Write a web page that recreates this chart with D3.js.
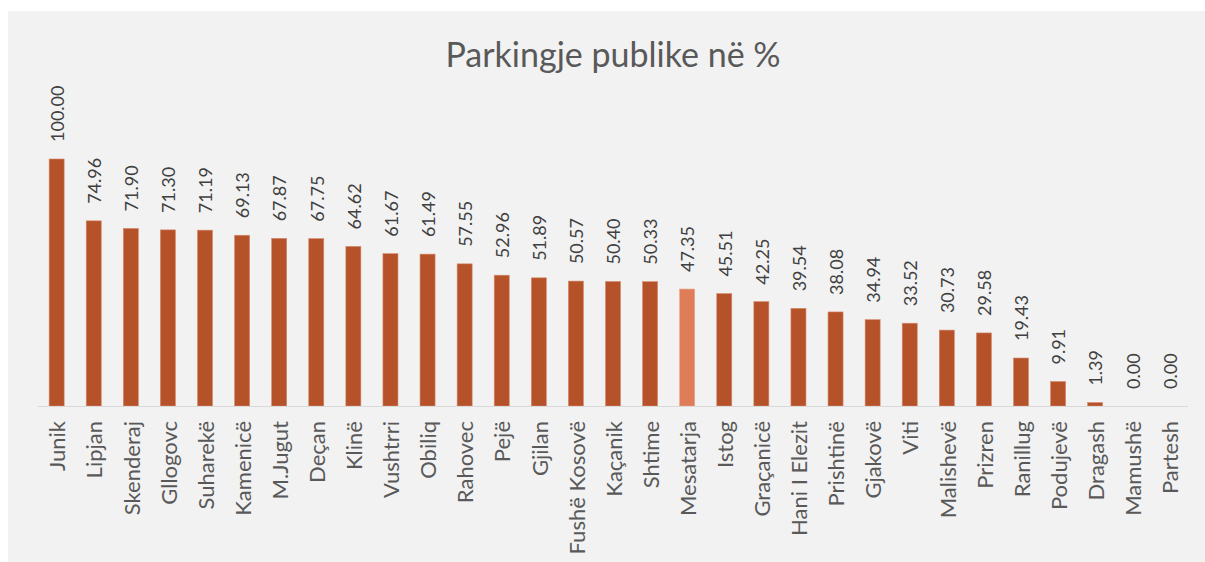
<!DOCTYPE html>
<html>
<head>
<meta charset="utf-8">
<script src="https://cdn.jsdelivr.net/npm/d3@7"></script>
<style>
  body { margin: 0; background: #fff; }
  svg { display: block; }
</style>
</head>
<body>
<div id="chart"></div>
<script>
// ######################## Data #############################################
const municipalities = ["Junik", "Lipjan", "Skenderaj", "Gllogovc", "Suharekë", "Kamenicë", "M.Jugut", "Deçan",
    "Klinë", "Vushtrri", "Obiliq", "Rahovec", "Pejë", "Gjilan", "Fushë Kosovë", "Kaçanik", "Shtime",
    "Mesatarja", "Istog", "Graçanicë", "Hani I Elezit", "Prishtinë", "Gjakovë", "Viti", "Malishevë",
    "Prizren", "Ranillug", "Podujevë", "Dragash", "Mamushë", "Partesh"]
const publicParking = [100.00, 74.96, 71.90, 71.30, 71.19, 69.13, 67.87, 67.75, 64.62, 61.67, 61.49, 57.55,
    52.96, 51.89, 50.57, 50.40, 50.33, 47.35, 45.51, 42.25, 39.54, 38.08, 34.94, 33.52, 30.73, 29.58,
    19.43, 9.91, 1.39, 0.00, 0.00]
const averageName = "Mesatarja"
const chartTitle = "Parkingje publike në %"

// ######################## Draw #############################################
const width = 1205, height = 562
const font = "Lato, 'Open Sans', sans-serif"

const svg = d3.select("#chart").append("svg")
    .attr("width", width)
    .attr("height", height)

// chart area background
svg.append("rect")
    .attr("x", 8).attr("y", 11)
    .attr("width", width - 8).attr("height", height - 11)
    .attr("fill", "#f2f2f2")

svg.append("text")
    .attr("x", 613).attr("y", 67)
    .attr("text-anchor", "middle")
    .attr("font-family", font)
    .attr("font-size", 34)
    .attr("fill", "#595959")
    .text(chartTitle)

const data = municipalities.map((name, i) => ({ name, value: publicParking[i] }))

const x = d3.scaleBand()
    .domain(municipalities)
    .range([38, 1188])
    .paddingInner(0.595)
    .paddingOuter(0.3)

const y = d3.scaleLinear()
    .domain([0, 100])
    .range([406, 159])

svg.selectAll("rect.bar")
    .data(data)
    .join("rect")
    .attr("class", "bar")
    .attr("x", d => x(d.name))
    .attr("y", d => y(d.value))
    .attr("width", x.bandwidth())
    .attr("height", d => y(0) - y(d.value))
    .attr("fill", d => d.name === averageName ? "#df7d59" : "#b5522a")
    .attr("stroke", d => d.value > 0 ? (d.name === averageName ? "#eba588" : "#d58a69") : "none")
    .attr("stroke-width", 0.6)

// baseline
svg.append("line")
    .attr("x1", 38).attr("x2", 1188)
    .attr("y1", 406.5).attr("y2", 406.5)
    .attr("stroke", "#d9d9d9")
    .attr("stroke-width", 1.2)

// value labels, rotated
svg.selectAll("text.value")
    .data(data)
    .join("text")
    .attr("class", "value")
    .attr("transform", d => `translate(${x(d.name) + x.bandwidth() / 2 + 1},${y(d.value) - 17}) rotate(-90)`)
    .attr("dy", "0.35em")
    .attr("font-family", font)
    .attr("font-size", 18)
    .attr("fill", "#404040")
    .text(d => d.value.toFixed(2))

// category labels
svg.selectAll("text.cat")
    .data(data)
    .join("text")
    .attr("class", "cat")
    .attr("transform", d => `translate(${x(d.name) + x.bandwidth() / 2 + 1},421) rotate(-90)`)
    .attr("text-anchor", "end")
    .attr("dy", "0.35em")
    .attr("font-family", font)
    .attr("font-size", 22)
    .attr("fill", "#595959")
    .text(d => d.name)
</script>
</body>
</html>
